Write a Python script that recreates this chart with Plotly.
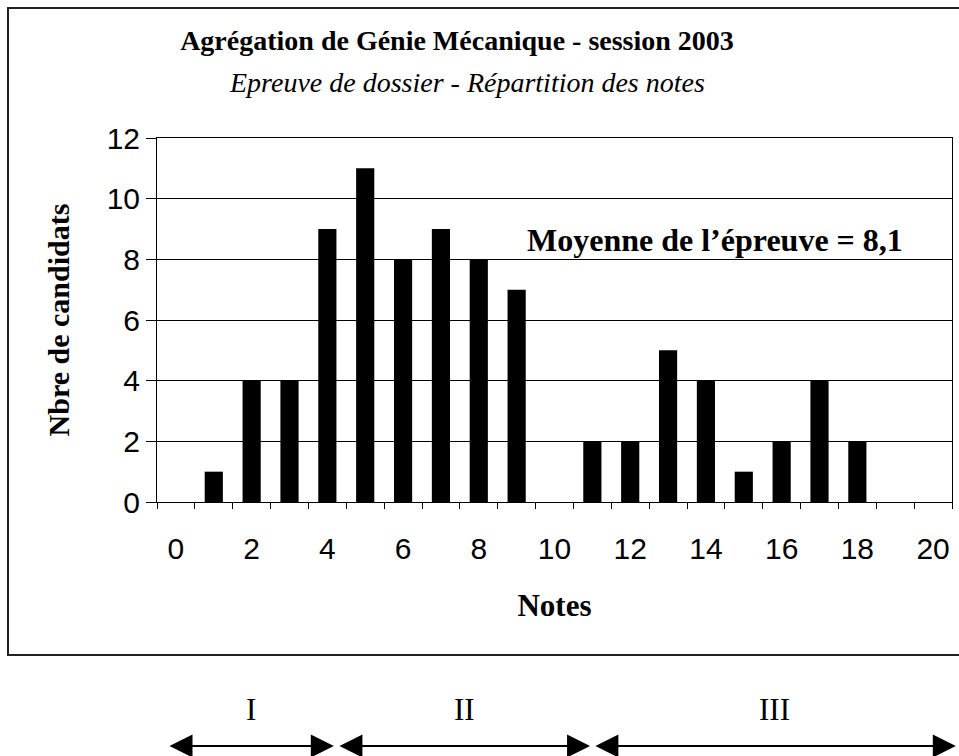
import plotly.graph_objects as go

notes = list(range(0, 21))
candidats = [0, 1, 4, 4, 9, 11, 8, 9, 8, 7, 0, 2, 2, 5, 4, 1, 2, 4, 2, 0, 0]
x_ticks = list(range(0, 21, 2))
y_ticks = list(range(0, 13, 2))

title_text = "Agrégation de Génie Mécanique - session 2003"
subtitle_text = "Epreuve de dossier - Répartition des notes"
mean_text = "Moyenne de l’épreuve = 8,1"
x_title = "Notes"
y_title = "Nbre de candidats"

# groups of notes shown with arrows below the chart: (label, start, end) in note units
groups = [("I", -0.21, 4.17), ("II", 4.28, 10.94), ("III", 11.04, 20.6)]

W, H = 959, 756
L, R, T, B = 157, 7, 138, 254
plot_w = W - L - R
plot_h = H - T - B

def px_to_paper_x(px):
    return (px - L) / plot_w

def py_to_paper_y(py):
    return (H - B - py) / plot_h

serif = "Liberation Serif, Times New Roman, serif"
sans = "Liberation Sans, Arial, sans-serif"

fig = go.Figure()
fig.add_trace(go.Bar(x=notes, y=candidats, marker=dict(color="black", line=dict(width=0)),
                     width=0.48, showlegend=False))

fig.update_layout(
    width=W, height=H,
    margin=dict(l=L, r=R, t=T, b=B, autoexpand=False),
    paper_bgcolor="white", plot_bgcolor="white",
    title=dict(text="<b>" + title_text + "</b>", x=457 / W, xanchor="center",
               y=1 - 40 / H, yanchor="middle", xref="container", yref="container",
               font=dict(family=serif, size=28, color="black")),
)

fig.update_xaxes(
    range=[-0.5, 20.5], tickmode="array", tickvals=x_ticks, ticktext=[str(v) for v in x_ticks],
    ticks="", ticklabelstandoff=20,
    tickfont=dict(family=sans, size=30, color="black"),
    showline=True, linecolor="black", linewidth=1, mirror=True,
    showgrid=False, zeroline=False,
    minor=dict(tickmode="array", tickvals=[v - 0.5 for v in range(0, 22)],
               ticks="outside", ticklen=6, tickcolor="black", tickwidth=1, showgrid=False),
    title=dict(text="<b>" + x_title + "</b>", standoff=30,
               font=dict(family=serif, size=31, color="black")),
)

fig.update_yaxes(
    range=[0, 12], tickmode="array", tickvals=y_ticks,
    ticks="outside", ticklen=10, tickcolor="black", tickwidth=1,
    tickfont=dict(family=sans, size=30, color="black"),
    showline=True, linecolor="black", linewidth=1, mirror=True,
    showgrid=True, gridcolor="black", gridwidth=1, zeroline=False,
    title=dict(text="<b>" + y_title + "</b>", standoff=28,
               font=dict(family=serif, size=30, color="black")),
)

annotations = [
    dict(text="<i>" + subtitle_text + "</i>", xref="paper", yref="paper",
         x=px_to_paper_x(467), y=py_to_paper_y(82), xanchor="center", yanchor="middle",
         showarrow=False, font=dict(family=serif, size=28, color="black")),
    dict(text="<b>" + mean_text + "</b>", xref="paper", yref="paper",
         x=px_to_paper_x(715), y=py_to_paper_y(240), xanchor="center", yanchor="middle",
         showarrow=False, font=dict(family=serif, size=32, color="black")),
]

arrow_y = py_to_paper_y(746)
label_y = py_to_paper_y(709)
for label, x0, x1 in groups:
    annotations.append(dict(
        text="", xref="x", yref="paper", axref="x", ayref="pixel",
        x=x1, y=arrow_y, ax=x0, ay=0, showarrow=True,
        arrowhead=2, startarrowhead=2, arrowside="end+start",
        arrowsize=2.3, startarrowsize=2.3, arrowwidth=2, arrowcolor="black",
        standoff=0, startstandoff=0))
    annotations.append(dict(
        text=label, xref="x", yref="paper", x=(x0 + x1) / 2, y=label_y,
        xanchor="center", yanchor="middle", showarrow=False,
        font=dict(family=serif, size=31, color="black")))

fig.update_layout(annotations=annotations)

# outer frame around chart area (its right side runs past the window edge)
fx0, fx1 = px_to_paper_x(8), px_to_paper_x(975)
fy0, fy1 = py_to_paper_y(655), py_to_paper_y(8)
fig.add_shape(type="path", xref="paper", yref="paper",
              path=f"M {fx1} {fy1} L {fx0} {fy1} L {fx0} {fy0} L {fx1} {fy0}",
              line=dict(color="#222", width=2), layer="below")

fig.write_html(
    "out.html",
    config={"displayModeBar": False},
    post_script="document.body.style.margin='0';document.body.style.overflow='hidden';",
)
